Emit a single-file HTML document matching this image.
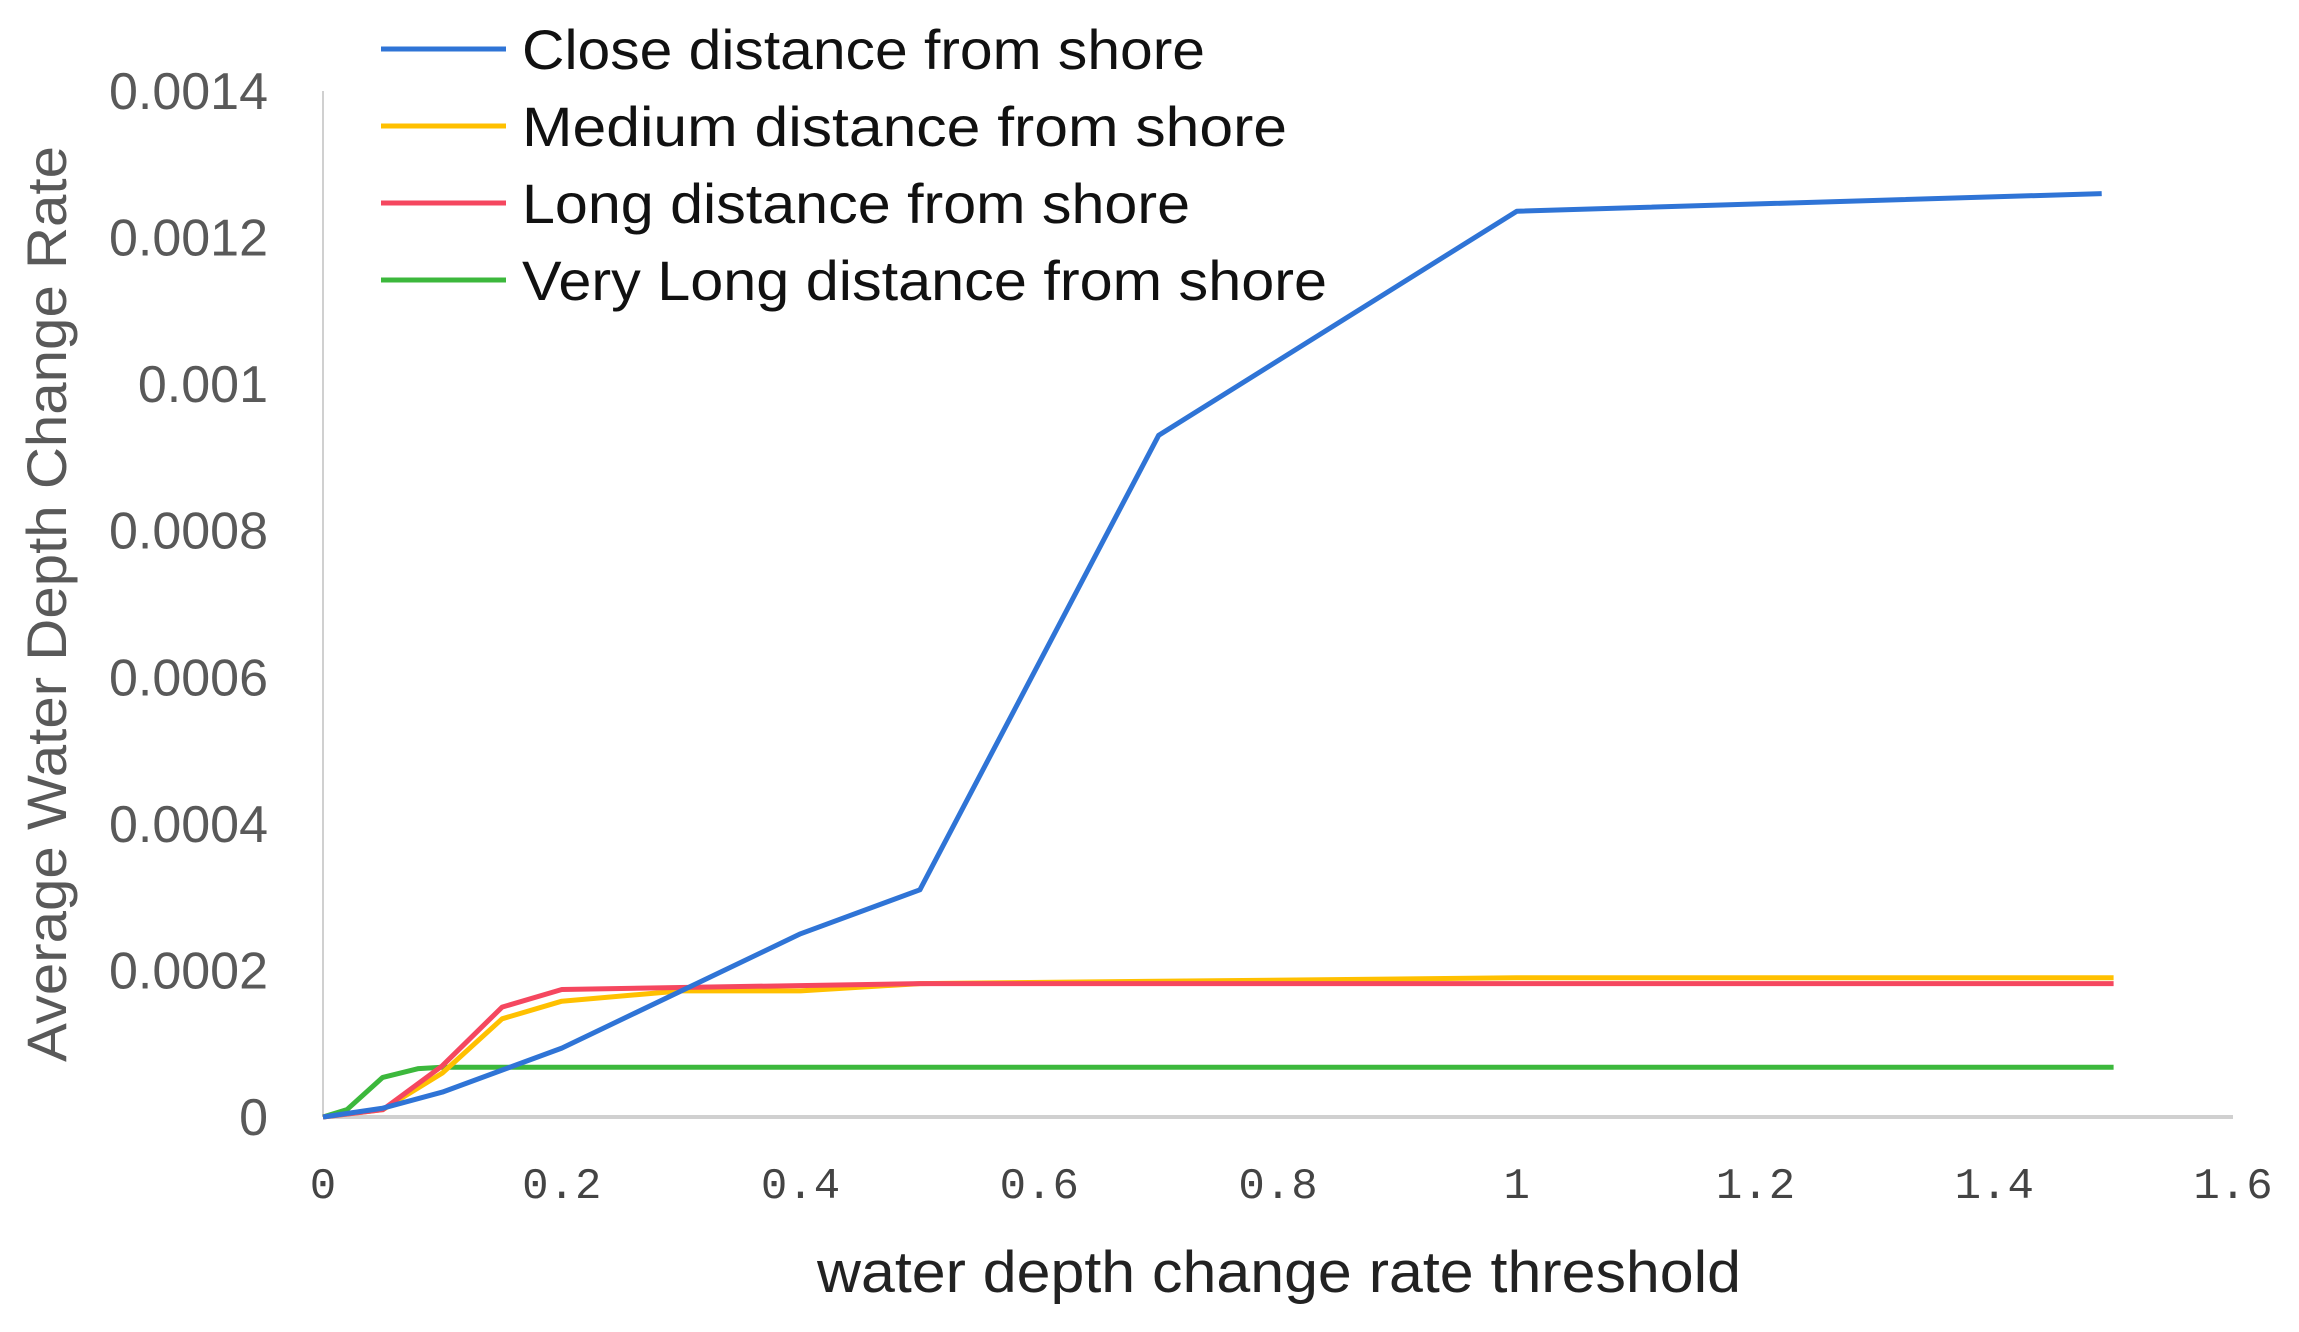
<!DOCTYPE html>
<html><head><meta charset="utf-8"><style>
html,body{margin:0;padding:0;background:#fff;}
svg{display:block;}
</style></head><body>
<svg id="chart" width="2299" height="1332" xmlns="http://www.w3.org/2000/svg">
<g id="axes"></g>
<g id="series"></g>
<g id="legend"></g>
<text x="817" y="1292" textLength="924" lengthAdjust="spacingAndGlyphs" font-family="Liberation Sans, sans-serif" font-size="58" fill="#222">water depth change rate threshold</text>
<text transform="translate(66,604) rotate(-90)" x="-458" y="0" textLength="916" lengthAdjust="spacingAndGlyphs" font-family="Liberation Sans, sans-serif" font-size="56" fill="#595959">Average Water Depth Change Rate</text>
</svg>
<script>
const xTicks = [0,0.2,0.4,0.6,0.8,1,1.2,1.4,1.6];
const xTickLabels = ["0","0.2","0.4","0.6","0.8","1","1.2","1.4","1.6"];
const yTicks = [0,0.0002,0.0004,0.0006,0.0008,0.001,0.0012,0.0014];
const yTickLabels = ["0","0.0002","0.0004","0.0006","0.0008","0.001","0.0012","0.0014"];
const seriesNames = ["Close distance from shore","Medium distance from shore","Long distance from shore","Very Long distance from shore"];
const seriesColors = ["#2f74d6","#ffc000","#f5475f","#3cb83c"];
const closeX = [0,0.05,0.1,0.2,0.4,0.5,0.7,1.0,1.49];
const closeY = [0,0.000012,0.000034,0.000094,0.00025,0.00031,0.00093,0.001236,0.00126];
const mediumX = [0,0.05,0.1,0.15,0.2,0.3,0.4,0.5,1.0,1.5];
const mediumY = [0,0.00001,0.00006,0.000134,0.000158,0.000172,0.000172,0.000182,0.00019,0.00019];
const longX = [0,0.05,0.1,0.15,0.2,0.5,1.0,1.5];
const longY = [0,0.00001,0.00007,0.00015,0.000174,0.000182,0.000182,0.000182];
const vlongX = [0,0.02,0.05,0.08,0.1,1.5];
const vlongY = [0,0.00001,0.000054,0.000066,0.000068,0.000068];
const legendWidths = [683,765,668,805];

const NS="http://www.w3.org/2000/svg";
const X0=323,X1=2233,Y0=1117,Y1=91;
function xs(v){return X0+(v/1.6)*(X1-X0);}
function ys(v){return Y0-(v/0.0014)*(Y0-Y1);}
function mk(tag,attrs,parent){const e=document.createElementNS(NS,tag);for(const k in attrs)e.setAttribute(k,attrs[k]);parent.appendChild(e);return e;}
const axes=document.getElementById('axes');
let yl=mk('line',{x1:X0,y1:Y1,x2:X0,y2:Y0,stroke:'#d0d0d0','stroke-width':2},axes);


let xl=mk('line',{x1:X0,y1:Y0,x2:X1,y2:Y0,stroke:'#d0d0d0','stroke-width':4},axes);


yTicks.forEach((t,i)=>{
  const e=mk('text',{x:268,y:ys(t)+18,'text-anchor':'end','font-family':'Liberation Sans, sans-serif','font-size':52,fill:'#595959'},axes);
  e.textContent=yTickLabels[i];
  
  
});
xTicks.forEach((t,i)=>{
  const e=mk('text',{x:xs(t),y:1198,'text-anchor':'middle','font-family':'Liberation Mono, monospace','font-size':44,fill:'#444'},axes);
  e.textContent=xTickLabels[i];
  
  
});
const sg=document.getElementById('series');
const allX=[closeX,mediumX,longX,vlongX], allY=[closeY,mediumY,longY,vlongY];
const order=[3,1,2,0];
const snames=['series-close','series-medium','series-long','series-very-long'];
order.forEach(i=>{
  const pts=allX[i].map((x,j)=>xs(x).toFixed(1)+','+ys(allY[i][j]).toFixed(1)).join(' ');
  const p=mk('polyline',{points:pts,fill:'none',stroke:seriesColors[i],'stroke-width':5,'stroke-linejoin':'round'},sg);
  
  
});
const lg=document.getElementById('legend');
const rows=[49,126,203,280];
seriesNames.forEach((n,i)=>{
  const l=mk('line',{x1:381,y1:rows[i],x2:506,y2:rows[i],stroke:seriesColors[i],'stroke-width':5},lg);
  
  
  const t=mk('text',{x:522,y:rows[i]+20,'font-family':'Liberation Sans, sans-serif','font-size':56,fill:'#111',textLength:legendWidths[i],lengthAdjust:'spacingAndGlyphs'},lg);
  t.textContent=n;
  
  
});
</script>
</body></html>
